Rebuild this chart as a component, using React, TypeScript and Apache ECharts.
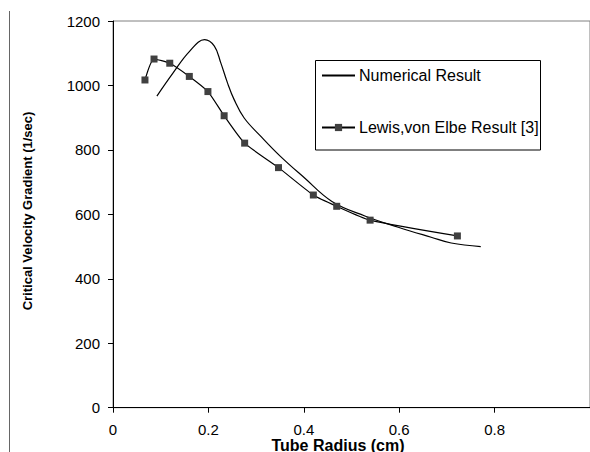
import React, { useEffect, useRef } from "react";
import * as echarts from "echarts";

const numericalData: [number, number][] = [
  [0.092, 967], [0.126, 1039], [0.160, 1105], [0.192, 1142], [0.2125, 1122],
  [0.226, 1070], [0.240, 1008], [0.254, 956], [0.275, 899], [0.310, 842],
  [0.351, 780], [0.400, 715], [0.459, 640], [0.528, 595], [0.598, 560],
  [0.667, 529], [0.709, 511], [0.771, 500],
];

const lewisData: [number, number][] = [
  [0.067, 1017], [0.086, 1082], [0.119, 1069], [0.160, 1028], [0.199, 981],
  [0.233, 906], [0.276, 821], [0.347, 745], [0.420, 660], [0.469, 625],
  [0.539, 582], [0.722, 533],
];

const seriesNames = ["Numerical Result", "Lewis,von Elbe Result [3]"];
const xTitle = "Tube Radius (cm)";
const yTitle = "Critical Velocity Gradient (1/sec)";

const FONT = "'Liberation Sans', Arial, sans-serif";

export default function App() {
  const ref = useRef<HTMLDivElement>(null);
  useEffect(() => {
    if (!ref.current) return;
    const chart = echarts.init(ref.current, undefined, { renderer: "svg" });
    chart.setOption({
      animation: false,
      backgroundColor: "#ffffff",
      textStyle: { fontFamily: FONT },
      grid: {
        left: 113,
        top: 21,
        width: 480,
        height: 386.7,
        show: true,
        borderColor: "#808080",
        borderWidth: 1,
        backgroundColor: "transparent",
      },
      xAxis: {
        type: "value",
        min: 0,
        max: 1,
        interval: 0.2,
        axisLine: { lineStyle: { color: "#000", width: 1 } },
        axisTick: { show: true, length: 5, lineStyle: { color: "#000" } },
        splitLine: { show: false },
        axisLabel: {
          color: "#000",
          fontSize: 15,
          fontFamily: FONT,
          margin: 14,
          showMaxLabel: false,
          formatter: (v: number) => (v >= 0.999 ? "" : String(Math.round(v * 10) / 10)),
        },
      },
      yAxis: {
        type: "value",
        min: 0,
        max: 1200,
        interval: 200,
        axisLine: { show: true, lineStyle: { color: "#000", width: 1 } },
        axisTick: { show: true, length: 5, lineStyle: { color: "#000" } },
        splitLine: { show: false },
        axisLabel: {
          color: "#000",
          fontSize: 15,
          fontFamily: FONT,
          margin: 13,
          formatter: (v: number) => String(v),
        },
      },
      legend: {
        left: 321,
        top: 67.5,
        orient: "vertical",
        itemWidth: 33,
        itemHeight: 9,
        itemGap: 36,
        padding: 0,
        textStyle: { color: "#000", fontSize: 16, fontFamily: FONT, padding: [0, 0, 0, -1] },
        data: [
          { name: seriesNames[0], itemStyle: { opacity: 0 } },
          { name: seriesNames[1] },
        ],
      },
      graphic: [
        {
          type: "rect",
          shape: { x: 315.5, y: 60.5, width: 225, height: 89.5 },
          style: { fill: "none", stroke: "#000", lineWidth: 1 },
          z: 1,
        },
        {
          type: "line",
          shape: { x1: 9.5, y1: 11, x2: 9.5, y2: 452 },
          style: { stroke: "#666", lineWidth: 1 },
        },
        {
          type: "text",
          x: 338,
          y: 445,
          style: {
            text: xTitle,
            fontSize: 16,
            fontWeight: "bold",
            fontFamily: FONT,
            fill: "#000",
            align: "center",
            verticalAlign: "middle",
          },
        },
        {
          type: "text",
          x: 27,
          y: 211,
          rotation: Math.PI / 2,
          style: {
            text: yTitle,
            fontSize: 13,
            fontWeight: "bold",
            fontFamily: FONT,
            fill: "#000",
            align: "center",
            verticalAlign: "middle",
          },
        },
      ],
      series: [
        {
          name: seriesNames[0],
          type: "line",
          data: numericalData,
          smooth: 0.4,
          symbol: "none",
          showSymbol: false,
          lineStyle: { color: "#000", width: 1.2 },
          itemStyle: { color: "#000" },
        },
        {
          name: seriesNames[1],
          type: "line",
          data: lewisData,
          smooth: 0.2,
          symbol: "rect",
          symbolSize: 7,
          showSymbol: true,
          lineStyle: { color: "#000", width: 1.2 },
          itemStyle: { color: "#404040", borderWidth: 0 },
        },
      ],
    });
    return () => chart.dispose();
  }, []);
  return (
    <div
      ref={ref}
      style={{ position: "fixed", left: 0, top: 0, width: 590, height: 452 }}
    />
  );
}
